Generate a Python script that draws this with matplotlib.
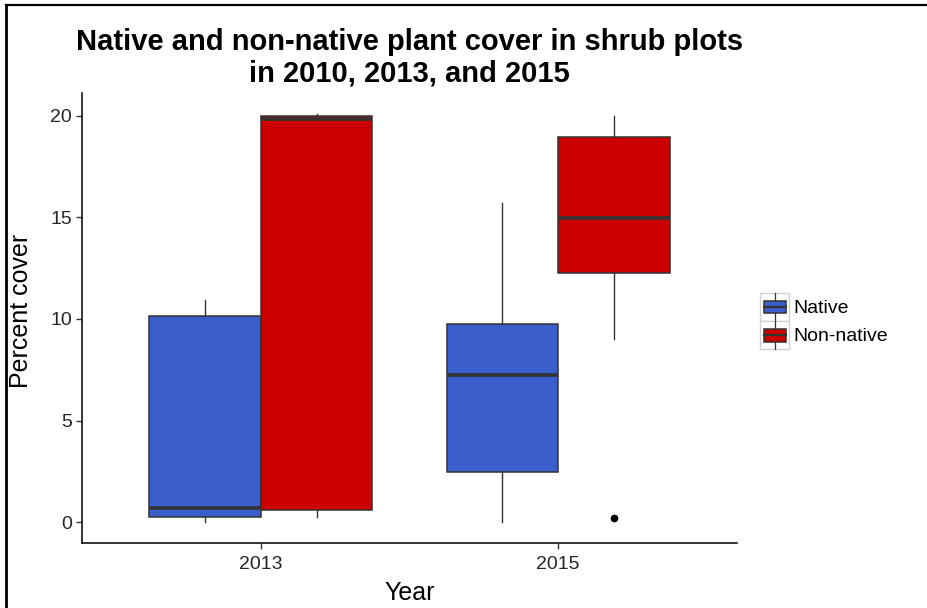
import matplotlib
matplotlib.use("Agg")
import matplotlib.pyplot as plt
from matplotlib.legend_handler import HandlerBase
from matplotlib.patches import Rectangle, Patch
from matplotlib.lines import Line2D

plt.rcParams['font.family'] = ['Liberation Sans', 'DejaVu Sans']

# survey years and plant groups
years = ['2013', '2015']
groups = ['Native', 'Non-native']

# box summaries (percent cover) per year
native_low = [0.0, 0.0]
native_q1 = [0.25, 2.49]
native_med = [0.68, 7.23]
native_q3 = [10.15, 9.75]
native_high = [10.94, 15.69]
native_out = [[], []]

nonnative_low = [0.28, 9.0]
nonnative_q1 = [0.60, 12.26]
nonnative_med = [19.85, 14.98]
nonnative_q3 = [20.0, 18.97]
nonnative_high = [20.07, 19.98]
nonnative_out = [[], [0.2]]

fills = ['#3A5FCD', '#CD0000']
edge = '#333333'


def make_stats(low, q1, med, q3, high, out):
    stats = []
    for i in range(len(low)):
        stats.append({'whislo': low[i], 'q1': q1[i], 'med': med[i],
                      'q3': q3[i], 'whishi': high[i], 'fliers': out[i]})
    return stats


class BoxKey(HandlerBase):
    # little boxplot glyph for the legend keys
    def create_artists(self, legend, orig_handle, xdescent, ydescent,
                       width, height, fontsize, trans):
        bg = Rectangle((-xdescent, -ydescent), width, height,
                       facecolor='white', edgecolor='#D0D0D0', lw=1.0,
                       transform=trans)
        cx = -xdescent + width / 2
        whisk = Line2D([cx, cx], [-ydescent, -ydescent + height],
                       color=edge, lw=0.9, transform=trans)
        bw = width * 0.78
        bh = height * 0.45
        box = Rectangle((cx - bw / 2, -ydescent + (height - bh) / 2), bw, bh,
                        facecolor=orig_handle.get_facecolor(),
                        edgecolor=edge, lw=1.1, transform=trans)
        med = Line2D([cx - bw / 2, cx + bw / 2],
                     [-ydescent + height / 2, -ydescent + height / 2],
                     color=edge, lw=1.6, transform=trans)
        return [bg, whisk, box, med]


fig = plt.figure(figsize=(9.28, 6.08), dpi=100)
ax = fig.add_axes([82.3 / 928, 1 - 542.6 / 608, 654.4 / 928, 449.3 / 608])

width = 0.375
centers = [1, 2]
all_stats = [make_stats(native_low, native_q1, native_med, native_q3, native_high, native_out),
             make_stats(nonnative_low, nonnative_q1, nonnative_med, nonnative_q3, nonnative_high, nonnative_out)]
offsets = [-width / 2, width / 2]

for stats, off, col in zip(all_stats, offsets, fills):
    ax.bxp(stats, positions=[c + off for c in centers], widths=width,
           patch_artist=True, showcaps=False,
           boxprops=dict(facecolor=col, edgecolor=edge, linewidth=1.1),
           medianprops=dict(color=edge, linewidth=2.6, solid_capstyle='butt'),
           whiskerprops=dict(color=edge, linewidth=1.0),
           flierprops=dict(marker='o', markerfacecolor='black',
                           markeredgecolor='black', markersize=4.5))

ax.set_xlim(0.4, 2.6)
ax.set_ylim(-1.0, 21.1)
ax.set_xticks(centers)
ax.set_xticklabels(years)
ax.set_yticks([0, 5, 10, 15, 20])

for side in ['top', 'right']:
    ax.spines[side].set_visible(False)
for side in ['left', 'bottom']:
    ax.spines[side].set_linewidth(1.1)
    ax.spines[side].set_color('black')
ax.tick_params(axis='both', length=4.5, width=1.0, color=edge,
               labelsize=14, labelcolor='#262626', pad=3)
ax.tick_params(axis='x', pad=5)

# two-line title, centred over the panel
title_x = 409.5 / 928
fig.text(title_x, 1 - 50 / 608, 'Native and non-native plant cover in shrub plots',
         ha='center', va='baseline', fontsize=21, fontweight='bold')
fig.text(title_x, 1 - 81.5 / 608, 'in 2010, 2013, and 2015',
         ha='center', va='baseline', fontsize=21, fontweight='bold')

fig.text(21 / 928, 1 - 311 / 608, 'Percent cover', rotation=90,
         ha='center', va='center', fontsize=18)
fig.text(410 / 928, 1 - 599.5 / 608, 'Year', ha='center', va='baseline',
         fontsize=18)

handles = [Patch(facecolor=c) for c in fills]
fig.legend(handles, groups, handler_map={Patch: BoxKey()},
           loc='upper left', bbox_to_anchor=(760.5 / 928, 1 - 293 / 608),
           frameon=False, fontsize=14, handlelength=1.45, handleheight=1.85,
           labelspacing=0.0, handletextpad=0.22, borderpad=0.0,
           borderaxespad=0.0)

# frame lines along the top and left edges
fig.add_artist(Line2D([6.5 / 928, 6.5 / 928], [0, 1 - 5 / 608],
                      transform=fig.transFigure, color='black', lw=2.0))
fig.add_artist(Line2D([6.5 / 928, 1], [1 - 5 / 608, 1 - 5 / 608],
                      transform=fig.transFigure, color='black', lw=1.6))

fig.savefig('out.png', dpi=100)
